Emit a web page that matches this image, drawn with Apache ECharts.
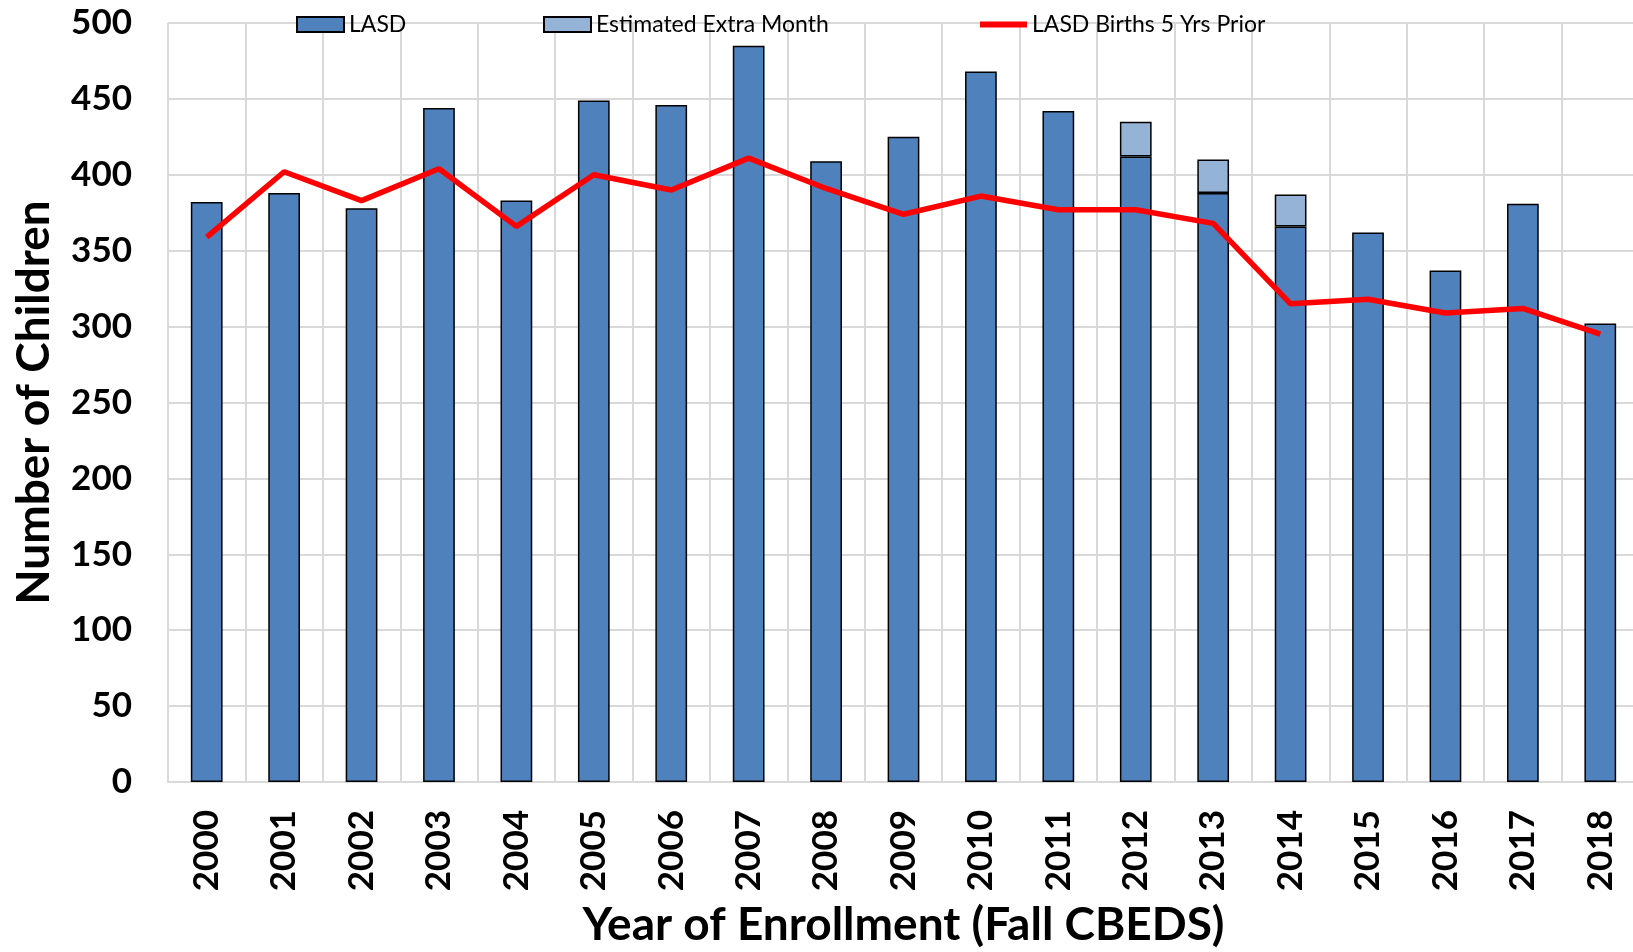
<!DOCTYPE html>
<html>
<head>
<meta charset="utf-8">
<title>LASD enrollment</title>
<script src="https://cdn.jsdelivr.net/npm/echarts@6/dist/echarts.min.js"></script>
<style>
  html, body { margin: 0; padding: 0; background: #fff; }
  #chart { width: 1633px; height: 952px; }
</style>
</head>
<body>
<div id="chart"></div>
<script>
var years = ['2000', '2001', '2002', '2003', '2004', '2005', '2006', '2007', '2008', '2009',
             '2010', '2011', '2012', '2013', '2014', '2015', '2016', '2017', '2018'];
var lasd = [382, 388, 378, 444, 383, 449, 446, 485, 409, 425,
            468, 442, 412, 388, 366, 362, 337, 381, 302];
// extra month estimate only for 2012-2014
var extraMonth = [null, null, null, null, null, null, null, null, null, null,
                  null, null, 23, 22, 21, null, null, null, null];
var births = [359, 402, 383, 404, 366, 400, 390, 411, 391, 374,
              386, 377, 377, 368, 315, 318, 309, 312, 295];

var font = 'Lato';
var legendText = { fontSize: 23, color: '#000', fontFamily: font };

var option = {
    animation: false,
    textStyle: { fontFamily: font },
    legend: [
        {
            left: 291, top: 8, itemWidth: 47, itemHeight: 15,
            data: [{ name: 'LASD', icon: 'rect' }],
            textStyle: legendText
        },
        {
            left: 538, top: 8, itemWidth: 47, itemHeight: 15,
            data: [{ name: 'Estimated Extra Month', icon: 'rect' }],
            textStyle: legendText
        },
        {
            left: 975, top: 8, itemWidth: 47, itemHeight: 6,
            data: [{ name: 'LASD Births 5 Yrs Prior', icon: 'rect' }],
            textStyle: legendText
        }
    ],
    grid: {
        left: 168,
        right: -6,
        top: 23,
        bottom: 170,
        outerBoundsMode: 'none'
    },
    xAxis: {
        type: 'category',
        data: years,
        name: 'Year of Enrollment (Fall CBEDS)',
        nameLocation: 'middle',
        nameGap: 120,
        nameTextStyle: { fontSize: 46, fontWeight: 'bold', color: '#000', fontFamily: font },
        axisLine: { lineStyle: { color: '#d9d9d9', width: 2 } },
        axisTick: { show: false },
        axisLabel: {
            rotate: 90,
            margin: 28,
            fontSize: 35,
            fontWeight: 'bold',
            color: '#000',
            fontFamily: font
        },
        splitLine: { show: true, lineStyle: { color: '#d9d9d9', width: 2 } }
    },
    yAxis: {
        type: 'value',
        min: 0,
        max: 500,
        interval: 50,
        name: 'Number of Children',
        nameLocation: 'middle',
        nameGap: 111,
        nameTextStyle: { fontSize: 46, fontWeight: 'bold', color: '#000', fontFamily: font },
        axisLine: { show: false },
        axisTick: { show: false },
        axisLabel: {
            margin: 36,
            fontSize: 35,
            fontWeight: 'bold',
            color: '#000',
            fontFamily: font
        },
        splitLine: { lineStyle: { color: '#d9d9d9', width: 2 } }
    },
    series: [
        {
            name: 'LASD',
            type: 'bar',
            stack: 'kids',
            barWidth: '41%',
            data: lasd,
            itemStyle: { color: '#4f81bd', borderColor: '#000', borderWidth: 1.5 }
        },
        {
            name: 'Estimated Extra Month',
            type: 'bar',
            stack: 'kids',
            data: extraMonth,
            itemStyle: { color: '#95b3d7', borderColor: '#000', borderWidth: 1.5 }
        },
        {
            name: 'LASD Births 5 Yrs Prior',
            type: 'line',
            data: births,
            symbol: 'none',
            z: 5,
            lineStyle: { color: '#ff0000', width: 5.5 },
            itemStyle: { color: '#ff0000' }
        }
    ]
};

var myChart = echarts.init(document.getElementById('chart'));
myChart.setOption(option);
</script>
</body>
</html>
